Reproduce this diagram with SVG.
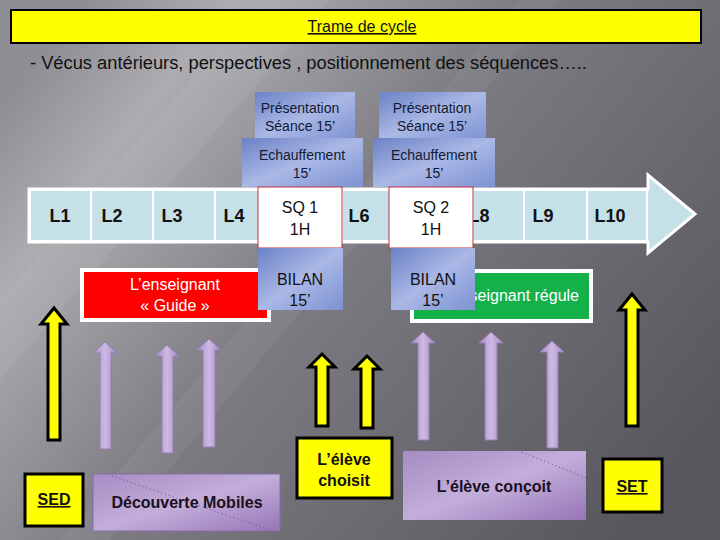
<svg xmlns="http://www.w3.org/2000/svg" width="720" height="540" viewBox="0 0 720 540">
<defs>
<linearGradient id="bg" x1="0" y1="0.2" x2="1" y2="0.8">
<stop offset="0" stop-color="#8e8e94"/>
<stop offset="0.15" stop-color="#acacb1"/>
<stop offset="0.45" stop-color="#7c7c82"/>
<stop offset="1" stop-color="#57565c"/>
</linearGradient>
<linearGradient id="blue" x1="0" y1="0" x2="1" y2="1">
<stop offset="0" stop-color="#6c82c6"/>
<stop offset="0.5" stop-color="#aab8e6"/>
<stop offset="1" stop-color="#7d92d2"/>
</linearGradient>
<linearGradient id="purp" x1="0" y1="0" x2="1" y2="1">
<stop offset="0" stop-color="#a68cc2"/>
<stop offset="0.5" stop-color="#c3aedb"/>
<stop offset="1" stop-color="#9676b6"/>
</linearGradient>
<linearGradient id="parr" x1="0" y1="0" x2="1" y2="0">
<stop offset="0" stop-color="#a88dc6"/>
<stop offset="0.5" stop-color="#cdb9e3"/>
<stop offset="1" stop-color="#a88dc6"/>
</linearGradient>
<clipPath id="regclip"><rect x="475" y="269" width="120" height="56"/></clipPath>
<style>
text{font-family:"Liberation Sans",Arial,sans-serif;}
.cell{fill:#c5e0e6;stroke:#ffffff;stroke-width:2;}
.lbl{font-size:18px;font-weight:bold;fill:#111;text-anchor:middle;}
.sq{fill:#ffffff;stroke:#c0303a;stroke-width:1;}
.sqt{font-size:16px;fill:#111;text-anchor:middle;}
.bl{fill:url(#blue);}
.blt{font-size:14px;fill:#111a33;text-anchor:middle;}
.yb{fill:#ffff00;stroke:#000;stroke-width:3;}
.ybt{font-size:16px;font-weight:bold;fill:#111;text-anchor:middle;}
.ya{fill:#ffff00;stroke:#000;stroke-width:3;stroke-linejoin:miter;}
.pa{fill:url(#parr);stroke:#9a7cb8;stroke-width:1;}
.pb{fill:url(#purp);}
.pbt{font-size:16px;font-weight:bold;fill:#1a1020;text-anchor:middle;}
</style>
</defs>
<rect x="0" y="0" width="720" height="540" fill="url(#bg)"/>
<path d="M0 300 L260 0 L330 0 L0 380 Z" fill="#ffffff" opacity="0.06"/>
<path d="M60 540 L520 0 L560 0 L110 540 Z" fill="#ffffff" opacity="0.05"/>

<g id="title">
<rect x="11" y="10" width="690" height="33" fill="#ffff00" stroke="#000" stroke-width="2"/>
<text x="362" y="32" font-size="16" fill="#111" text-anchor="middle" text-decoration="underline">Trame de cycle</text>
</g>
<text x="30" y="69" font-size="18.3" fill="#111">- Vécus antérieurs, perspectives , positionnement des séquences…..</text>

<g id="timeline">
<path d="M29 189 L648 189 L648 175 L695 214 L648 253 L648 242 L29 242 Z" fill="#c5e0e6" stroke="#ffffff" stroke-width="3"/>
<rect class="cell" x="30" y="190" width="61" height="51"/>
<rect class="cell" x="91" y="190" width="62" height="51"/>
<rect class="cell" x="153" y="190" width="62" height="51"/>
<rect class="cell" x="215" y="190" width="44" height="51"/>
<rect class="cell" x="342" y="190" width="48" height="51"/>
<rect class="cell" x="473" y="190" width="51" height="51"/>
<rect class="cell" x="524" y="190" width="63" height="51"/>
<rect class="cell" x="587" y="190" width="60" height="51"/>
<text class="lbl" x="60" y="222">L1</text>
<text class="lbl" x="112" y="222">L2</text>
<text class="lbl" x="172" y="222">L3</text>
<text class="lbl" x="234" y="222">L4</text>
<text class="lbl" x="359" y="222">L6</text>
<text class="lbl" x="479" y="222">L8</text>
<text class="lbl" x="543" y="222">L9</text>
<text class="lbl" x="610" y="222">L10</text>
</g>

<g id="seance1">
<rect class="bl" x="255" y="92" width="100" height="48"/>
<text class="blt" x="300" y="113">Présentation</text>
<text class="blt" x="300" y="131" font-size="13">Séance 15’</text>
<rect class="bl" x="242" y="138" width="121" height="49"/>
<text class="blt" x="302" y="160">Echauffement</text>
<text class="blt" x="302" y="178" font-size="13">15’</text>
</g>
<g id="seance2">
<rect class="bl" x="379" y="92" width="107" height="48"/>
<text class="blt" x="432" y="113">Présentation</text>
<text class="blt" x="432" y="131" font-size="13">Séance 15’</text>
<rect class="bl" x="373" y="138" width="122" height="49"/>
<text class="blt" x="434" y="160">Echauffement</text>
<text class="blt" x="434" y="178" font-size="13">15’</text>
</g>

<g id="guide">
<rect x="80" y="268" width="191" height="54" fill="#ffffff"/>
<rect x="84" y="272" width="183" height="46" fill="#ff0000"/>
<text x="175" y="290" font-size="16" fill="#ffffff" text-anchor="middle">L’enseignant</text>
<text x="175" y="311" font-size="16" fill="#ffffff" text-anchor="middle">« Guide »</text>
</g>
<g id="regule">
<rect x="410" y="269" width="183" height="54" fill="#ffffff"/>
<rect x="414" y="273" width="175" height="46" fill="#14b04a"/>
<text x="579" y="301" font-size="16" fill="#ffffff" text-anchor="end" clip-path="url(#regclip)">L’enseignant régule</text>
</g>

<g id="sq1">
<rect class="sq" x="258" y="187" width="84" height="61"/>
<text class="sqt" x="300" y="213">SQ 1</text>
<text class="sqt" x="300" y="235">1H</text>
<rect class="bl" x="258" y="248" width="85" height="62"/>
<text class="sqt" x="300" y="285">BILAN</text>
<text class="sqt" x="300" y="306" fill="#ffffff">15’</text>
</g>
<g id="sq2">
<rect class="sq" x="389" y="187" width="84" height="61"/>
<text class="sqt" x="431" y="213">SQ 2</text>
<text class="sqt" x="431" y="235">1H</text>
<rect class="bl" x="391" y="248" width="84" height="62"/>
<text class="sqt" x="433" y="285">BILAN</text>
<text class="sqt" x="433" y="306" fill="#ffffff">15’</text>
</g>

<g id="connectors">
<path class="ya" d="M54 308 L67 324 L60 324 L60 440 L48 440 L48 324 L41 324 Z"/>
<path class="ya" d="M632 294 L645 310 L638 310 L638 426 L626 426 L626 310 L619 310 Z"/>
<path class="ya" d="M322 354 L335 367 L328 367 L328 426 L316 426 L316 367 L309 367 Z"/>
<path class="ya" d="M367 356 L380 369 L373 369 L373 428 L361 428 L361 369 L354 369 Z"/>
<path class="pa" d="M105 342 L117 353 L111 353 L111 449 L100 449 L100 353 L93 353 Z"/>
<path class="pa" d="M167 345 L179 356 L173 356 L173 453 L162 453 L162 356 L155 356 Z"/>
<path class="pa" d="M209 339 L221 350 L215 350 L215 447 L203 447 L203 350 L197 350 Z"/>
<path class="pa" d="M423 332 L435 343 L429 343 L429 440 L418 440 L418 343 L411 343 Z"/>
<path class="pa" d="M491 332 L503 343 L497 343 L497 440 L485 440 L485 343 L479 343 Z"/>
<path class="pa" d="M552 341 L564 352 L558 352 L558 448 L547 448 L547 352 L540 352 Z"/>
</g>

<g id="sed">
<rect class="yb" x="25" y="474" width="58" height="52"/>
<text class="ybt" x="54" y="505" text-decoration="underline">SED</text>
</g>
<g id="choisit">
<rect class="yb" x="297" y="438" width="95" height="60"/>
<text class="ybt" x="344" y="465">L’élève</text>
<text class="ybt" x="344" y="486">choisit</text>
</g>
<g id="set">
<rect class="yb" x="603" y="459" width="59" height="53"/>
<text class="ybt" x="632" y="492" text-decoration="underline">SET</text>
</g>
<g id="decouverte">
<rect class="pb" x="93" y="474" width="187" height="57" stroke="#8a6aa6" stroke-width="1"/>
<line x1="112" y1="476" x2="270" y2="530" stroke="#6a4a86" stroke-width="1" stroke-dasharray="1,3"/>
<text class="pbt" x="187" y="508">Découverte Mobiles</text>
</g>
<g id="concoit">
<rect class="pb" x="403" y="451" width="183" height="69"/>
<line x1="522" y1="452" x2="586" y2="478" stroke="#6a4a86" stroke-width="1" stroke-dasharray="1,3"/>
<text class="pbt" x="494" y="492">L’élève conçoit</text>
</g>
</svg>
